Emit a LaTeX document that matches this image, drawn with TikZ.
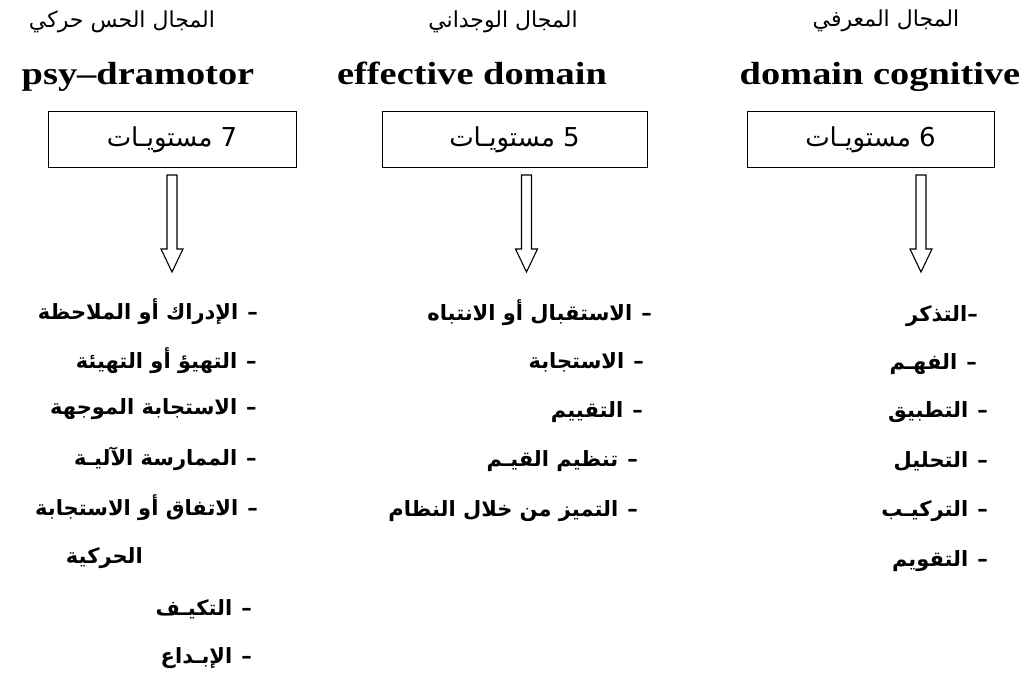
\documentclass[tikz,border=0pt]{standalone}
\usepackage{fontspec}
\setmainfont{Liberation Serif}
\newfontfamily\arabicfont[Script=Arabic]{DejaVu Sans}
\TeXXeTstate=1
\usetikzlibrary{calc}
\tikzset{
  domhead/.style={font=\arabicfont\fontsize{22}{26}\selectfont, inner sep=0},
  domname/.style={font=\bfseries\fontsize{32}{38}\selectfont, inner sep=0, anchor=base},
  lvlbox/.style={draw, line width=1pt, minimum height=56pt, inner sep=0,
                 font=\arabicfont\fontsize{26}{29}\selectfont},
  lvlitem/.style={anchor=east, inner sep=0, font=\arabicfont\bfseries\fontsize{21}{24}\selectfont},
  hollowarrow/.style={line width=1.1pt, line join=miter}
}
% leading dash of a level entry
\newcommand\lvldash{–\hspace{9pt}}
% hollow downward arrow from coordinate #1 (top) to coordinate #2 (tip)
\newcommand\hollowdown[2]{%
  \draw[hollowarrow] ($(#1)+(-5,0)$) -- ($(#1)+(5,0)$) -- ($(#2)+(5,-23)$)
    -- ($(#2)+(11,-23)$) -- (#2) -- ($(#2)+(-11,-23)$) -- ($(#2)+(-5,-23)$) -- cycle;}
\begin{document}
\begin{tikzpicture}[x=1pt,y=-1pt]
\useasboundingbox (0,0) rectangle (1029,682);

% domain titles
\node[domhead] (h1) at (122,22) {\beginR المجال الحس حركي\endR};
\node[domhead] (h2) at (503,22) {\beginR المجال الوجداني\endR};
\node[domhead] (h3) at (886,21) {\beginR المجال المعرفي\endR};

\node[domname] (e1) at (138,85) {\scalebox{1.2}[1]{psy–dramotor}};
\node[domname] (e2) at (472,85) {\scalebox{1.2}[1]{effective domain}};
\node[domname] (e3) at (880,85) {\scalebox{1.2}[1]{domain cognitive}};

% number of levels
\node[lvlbox, minimum width=248pt] (b1) at (172,140) {\beginR 7 مستويـات\endR};
\node[lvlbox, minimum width=265pt] (b2) at (514.5,140) {\beginR 5 مستويـات\endR};
\node[lvlbox, minimum width=247pt] (b3) at (870.5,140) {\beginR 6 مستويـات\endR};

% arrows
\coordinate (a1t) at (172,175);  \coordinate (a1h) at (172,272);
\coordinate (a2t) at (526.5,175); \coordinate (a2h) at (526.5,272);
\coordinate (a3t) at (921,175);  \coordinate (a3h) at (921,272);
\hollowdown{a1t}{a1h}
\hollowdown{a2t}{a2h}
\hollowdown{a3t}{a3h}

% psychomotor levels
\node[lvlitem] (p1) at (258,312) {\beginR\lvldash الإدراك أو الملاحظة\endR};
\node[lvlitem] (p2) at (257,361) {\beginR\lvldash التهيؤ أو التهيئة\endR};
\node[lvlitem] (p3) at (257,409) {\beginR\lvldash الاستجابة الموجهة\endR};
\node[lvlitem] (p4) at (257,459) {\beginR\lvldash الممارسة الآليـة\endR};
\node[lvlitem] (p5) at (258,508) {\beginR\lvldash الاتفاق أو الاستجابة\endR};
\node[lvlitem] (p5b) at (143,558) {\beginR الحركية\endR};
\node[lvlitem] (p6) at (252,609) {\beginR\lvldash التكيـف\endR};
\node[lvlitem] (p7) at (252,658) {\beginR\lvldash الإبـداع\endR};

% affective levels
\node[lvlitem] (f1) at (652,313) {\beginR\lvldash الاستقبال أو الانتباه\endR};
\node[lvlitem] (f2) at (644,362) {\beginR\lvldash الاستجابة\endR};
\node[lvlitem] (f3) at (643,412) {\beginR\lvldash التقييم\endR};
\node[lvlitem] (f4) at (638,461) {\beginR\lvldash تنظيم القيـم\endR};
\node[lvlitem] (f5) at (638,511) {\beginR\lvldash التميز من خلال النظام\endR};

% cognitive levels
\node[lvlitem] (c1) at (978,316) {\beginR –التذكر\endR};
\node[lvlitem] (c2) at (977,364) {\beginR\lvldash الفهـم\endR};
\node[lvlitem] (c3) at (988,412) {\beginR\lvldash التطبيق\endR};
\node[lvlitem] (c4) at (988,461) {\beginR\lvldash التحليل\endR};
\node[lvlitem] (c5) at (988,511) {\beginR\lvldash التركيـب\endR};
\node[lvlitem] (c6) at (988,561) {\beginR\lvldash التقويم\endR};
\end{tikzpicture}
\end{document}
